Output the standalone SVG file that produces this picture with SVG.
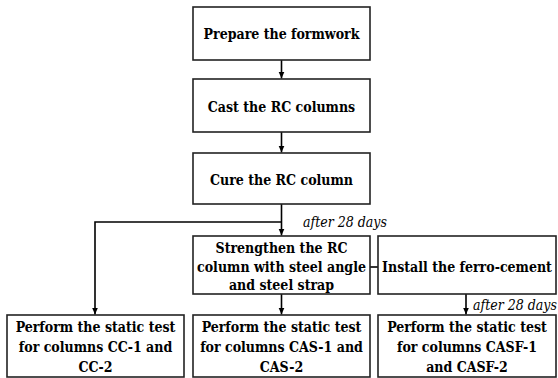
<svg xmlns="http://www.w3.org/2000/svg" width="558" height="378" viewBox="0 0 558 378">
<style>
.box{fill:#fff;stroke:#222;stroke-width:1.6}
.t{font-family:'DejaVu Serif Condensed', 'DejaVu Serif', serif;font-stretch:condensed;font-weight:700;font-size:14px;fill:#000;text-anchor:middle}
.n{font-family:'DejaVu Serif Condensed', 'DejaVu Serif', serif;font-stretch:condensed;font-style:italic;font-size:14px;fill:#000}
.c{fill:none;stroke:#000;stroke-width:1.6}
</style>
<defs>
<marker id="ah" markerWidth="8" markerHeight="8" refX="7" refY="4" orient="auto" markerUnits="userSpaceOnUse">
<path d="M0,1 L7,4 L0,7 Z" fill="#000"/>
</marker>
</defs>
<rect width="558" height="378" fill="#fff"/>
<g id="connectors">
<line class="c" x1="281.5" y1="60" x2="281.5" y2="78.5" marker-end="url(#ah)"/>
<line class="c" x1="281.5" y1="132" x2="281.5" y2="152.5" marker-end="url(#ah)"/>
<line class="c" x1="281.5" y1="204" x2="281.5" y2="235.5" marker-end="url(#ah)"/>
<polyline class="c" points="281.5,222 95,222 95,314.5" marker-end="url(#ah)"/>
<line class="c" x1="281.5" y1="294" x2="281.5" y2="314.5" marker-end="url(#ah)"/>
<line class="c" x1="370" y1="267" x2="378" y2="267"/>
<line class="c" x1="466" y1="294" x2="466" y2="314.5" marker-end="url(#ah)"/>
<text class="n" x="303" y="227">after 28 days</text>
<text class="n" x="473" y="310">after 28 days</text>
</g>
<g id="n1"><rect class="box" x="193" y="7" width="177" height="53"/><text class="t" x="281.5" y="39">Prepare the formwork</text></g>
<g id="n2"><rect class="box" x="193" y="79" width="177" height="53"/><text class="t" x="281.5" y="111.5">Cast the RC columns</text></g>
<g id="n3"><rect class="box" x="193" y="153" width="177" height="51"/><text class="t" x="281.5" y="185">Cure the RC column</text></g>
<g id="n4"><rect class="box" x="193" y="236" width="177" height="58"/>
<text class="t" x="281.5" y="253">Strengthen the RC</text>
<text class="t" x="281.5" y="272">column with steel angle</text>
<text class="t" x="281.5" y="290">and steel strap</text></g>
<g id="n5"><rect class="box" x="378" y="236" width="178" height="58"/><text class="t" x="467" y="271.5">Install the ferro-cement</text></g>
<g id="n6"><rect class="box" x="7" y="315" width="177" height="62"/>
<text class="t" x="95.5" y="332">Perform the static test</text>
<text class="t" x="95.5" y="352">for columns CC-1 and</text>
<text class="t" x="95.5" y="372">CC-2</text></g>
<g id="n7"><rect class="box" x="193" y="315" width="177" height="62"/>
<text class="t" x="281.5" y="332">Perform the static test</text>
<text class="t" x="281.5" y="352">for columns CAS-1 and</text>
<text class="t" x="281.5" y="372">CAS-2</text></g>
<g id="n8"><rect class="box" x="378" y="315" width="178" height="62"/>
<text class="t" x="467" y="332">Perform the static test</text>
<text class="t" x="467" y="352">for columns CASF-1</text>
<text class="t" x="467" y="372">and CASF-2</text></g>
</svg>
